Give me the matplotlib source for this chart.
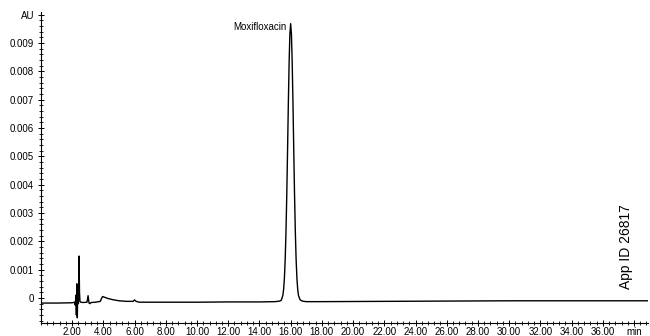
import matplotlib

matplotlib.use("Agg")

import matplotlib.pyplot as plt
from matplotlib.ticker import MultipleLocator, FixedLocator, FixedFormatter

plt.rcParams["font.family"] = ["Liberation Sans", "DejaVu Sans"]

# retention time (min) and absorbance (AU)
time_min = [
    0.00, 1.00, 2.00, 2.15, 2.20, 2.24, 2.27, 2.30, 2.33, 2.36, 2.40, 2.44, 2.47,
    2.50, 2.55, 2.70, 2.95, 3.02, 3.08, 3.14, 3.22, 3.50, 3.80, 3.88, 3.95, 4.05,
    4.30, 4.60, 5.00, 5.50, 5.90, 6.00, 6.10, 6.30, 8.00, 10.00, 12.00, 14.00,
    15.00, 15.30, 15.40, 15.50, 15.55, 15.60, 15.65, 15.70, 15.75, 15.80, 15.85,
    15.90, 15.95, 16.00, 16.05, 16.10, 16.15, 16.20, 16.25, 16.30, 16.35, 16.40,
    16.45, 16.50, 16.60, 16.70, 16.85, 17.00, 18.00, 22.00, 26.00, 30.00, 34.00,
    38.90,
]
absorbance = [
    -0.00018, -0.00018, -0.00017, -0.00015, -0.00025, 0.00010, -0.00060, 0.00050,
    -0.00070, 0.00035, -0.00020, 0.00148, 0.00020, -0.00012, -0.00015, -0.00016,
    -0.00015, 0.00008, -0.00018, -0.00020, -0.00016, -0.00015, -0.00012, -0.00002,
    0.00005, 0.00003, -0.00002, -0.00006, -0.00010, -0.00012, -0.00012, -0.00007,
    -0.00012, -0.00015, -0.00015, -0.00015, -0.00014, -0.00014, -0.00013, -0.00011,
    -0.00008, 0.00009, 0.00031, 0.00071, 0.00136, 0.00232, 0.00361, 0.00516,
    0.00681, 0.00828, 0.00931, 0.00968, 0.00931, 0.00828, 0.00681, 0.00516,
    0.00361, 0.00232, 0.00136, 0.00071, 0.00031, 0.00009, -0.00006, -0.00010,
    -0.00012, -0.00013, -0.00013, -0.00012, -0.00011, -0.00010, -0.00010, -0.00010,
]

x_major = [2, 4, 6, 8, 10, 12, 14, 16, 18, 20, 22, 24, 26, 28, 30, 32, 34, 36, 38]
x_labels = [f"{v:.2f}" for v in x_major[:-1]] + ["min"]
y_major = [0, 0.001, 0.002, 0.003, 0.004, 0.005, 0.006, 0.007, 0.008, 0.009, 0.010]
y_labels = ["0"] + [f"{v:.3f}" for v in y_major[1:-1]] + ["AU"]

fig = plt.figure(figsize=(6.5, 3.36), dpi=100)
ax = fig.add_axes([0.063, 0.039, 0.934, 0.926])

ax.plot(time_min, absorbance, color="black", linewidth=1.0)

ax.set_xlim(0, 38.9)
ax.set_ylim(-0.00088, 0.0101)

ax.xaxis.set_major_locator(FixedLocator(x_major))
ax.xaxis.set_major_formatter(FixedFormatter(x_labels))
ax.xaxis.set_minor_locator(MultipleLocator(0.4))
ax.yaxis.set_major_locator(FixedLocator(y_major))
ax.yaxis.set_major_formatter(FixedFormatter(y_labels))
ax.yaxis.set_minor_locator(MultipleLocator(0.0002))

ax.tick_params(axis="both", which="major", direction="inout", length=4, width=0.7,
               labelsize=7, pad=1)
ax.tick_params(axis="both", which="minor", direction="inout", length=2.5, width=0.6)
ax.tick_params(axis="y", which="major", pad=3)

for side in ("top", "right"):
    ax.spines[side].set_visible(False)
for side in ("left", "bottom"):
    ax.spines[side].set_linewidth(0.8)

ax.text(15.75, 0.00955, "Moxifloxacin", fontsize=7, ha="right", va="center")
ax.text(37.5, 0.0018, "App ID 26817", fontsize=10, rotation=90, ha="center", va="center")

fig.savefig("out.png", dpi=100)
